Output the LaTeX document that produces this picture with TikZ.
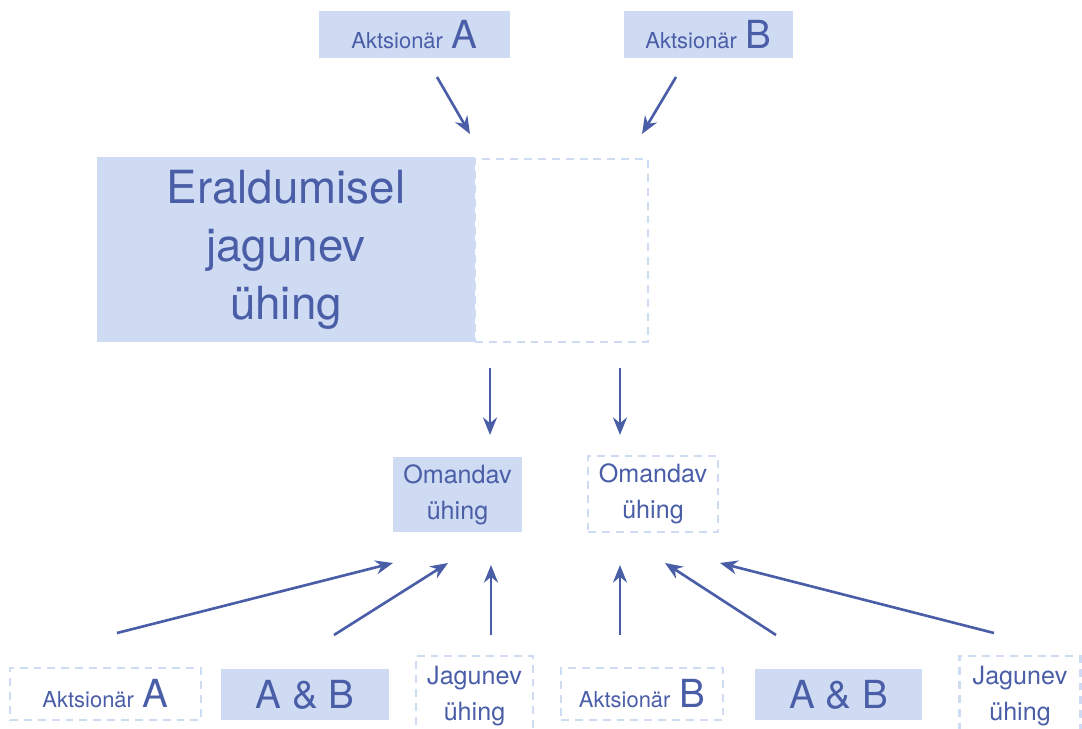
\documentclass[tikz,border=0pt]{standalone}
\usepackage{fontspec}
\setmainfont{TeX Gyre Heros}
\usetikzlibrary{arrows.meta,positioning}

\definecolor{boxfill}{HTML}{CFDBF2}
\definecolor{inkblue}{HTML}{4A5EA8}

\newcommand{\akt}[1]{{\fontsize{12.5}{14}\selectfont Aktsion\"ar}\hspace{5pt}{\fontsize{22}{24}\selectfont #1}}

\begin{document}
\begin{tikzpicture}[x=0.02cm, y=-0.02cm,
    every node/.style={text=inkblue, inner sep=0pt, align=center},
    filled/.style={fill=boxfill},
    dashedbox/.style={draw=boxfill, line width=1.5pt, dash pattern=on 4.5pt off 3.4pt},
    big/.style={font=\fontsize{26}{33}\selectfont},
    mid/.style={font=\fontsize{14.3}{20.5}\selectfont},
    pair/.style={font=\fontsize{22}{24}\selectfont},
    arrow/.style={-{Stealth[length=10pt, width=8pt]}, line width=1.5pt, draw=inkblue}
]
\useasboundingbox (0,0) rectangle (1082,729);

% top shareholders
\node[filled, minimum width=3.82cm, minimum height=0.94cm] (topA) at (414.5,34.5) {\akt{A}};
\node[filled, minimum width=3.38cm, minimum height=0.94cm] (topB) at (708.5,34.5) {\akt{B}};

% company being split
\node[filled, big, minimum width=7.56cm, minimum height=3.70cm] (split) at (286,249.5) {Eraldumisel\\jagunev\\ühing};
\node[dashedbox, minimum width=3.46cm, minimum height=3.66cm] (splitB) at (561.5,250.5) {};

% acquiring companies
\node[filled, mid, minimum width=2.58cm, minimum height=1.50cm] (omA) at (457.5,494.5) {Omandav\\ühing};
\node[dashedbox, mid, minimum width=2.60cm, minimum height=1.52cm] (omB) at (653,494) {Omandav\\ühing};

% bottom row
\node[dashedbox, minimum width=3.82cm, minimum height=1.04cm] (botA) at (105.5,694) {\akt{A}};
\node[filled, pair, minimum width=3.36cm, minimum height=1.02cm] (botAB) at (305,694.5) {A \& B};
\node[dashedbox, mid, minimum width=2.34cm, minimum height=1.60cm] (botJ) at (474.5,696) {Jagunev\\ühing};
\node[dashedbox, minimum width=3.24cm, minimum height=1.04cm] (botB) at (642,694) {\akt{B}};
\node[filled, pair, minimum width=3.34cm, minimum height=1.02cm] (botBA) at (838.5,694.5) {A \& B};
\node[dashedbox, mid, minimum width=2.42cm, minimum height=1.60cm] (botK) at (1020,696) {Jagunev\\ühing};

% arrow ends
\coordinate (fromA) at (437,77);
\coordinate (fromB) at (676,77);
\coordinate (inA) at (470,134);
\coordinate (inB) at (642,134);
\coordinate (outA) at (490,368);
\coordinate (outB) at (620,368);
\coordinate (toA) at (490,435);
\coordinate (toB) at (620,435);
\coordinate (s1) at (117,633);
\coordinate (s2) at (334,635);
\coordinate (s3) at (491,635);
\coordinate (s4) at (620,635);
\coordinate (s5) at (776,635);
\coordinate (s6) at (994,633);
\coordinate (e1) at (393,563);
\coordinate (e2) at (448,563);
\coordinate (e3) at (491,565);
\coordinate (e4) at (620,565);
\coordinate (e5) at (665,563);
\coordinate (e6) at (720,563);

\draw[arrow] (fromA) -- (inA);
\draw[arrow] (fromB) -- (inB);
\draw[arrow] (outA) -- (toA);
\draw[arrow] (outB) -- (toB);
\foreach \i in {1,...,6}
    \draw[arrow] (s\i) -- (e\i);
\end{tikzpicture}
\end{document}
